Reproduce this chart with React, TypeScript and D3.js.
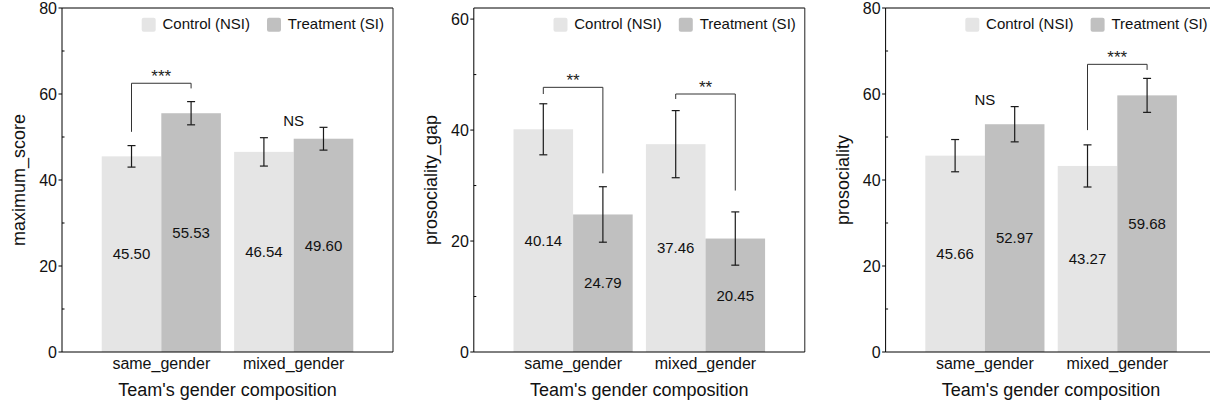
import React from "react";
import * as d3 from "d3";

// ---------- data ----------
const CATEGORIES = ["same_gender", "mixed_gender"];
const SERIES = ["Control (NSI)", "Treatment (SI)"];
const X_TITLE = "Team's gender composition";
const Y_TITLES = ["maximum_score", "prosociality_gap", "prosociality"];
const Y_MAX = [80, 62, 80];
const MAJOR_TICKS = [
  [0, 20, 40, 60, 80],
  [0, 20, 40, 60],
  [0, 20, 40, 60, 80],
];
const MINOR_TICKS = [
  [10, 30, 50, 70],
  [10, 30, 50],
  [10, 30, 50, 70],
];

// means: [category][series]
const MAXIMUM_SCORE = [
  [45.5, 55.53],
  [46.54, 49.6],
];
const MAXIMUM_SCORE_ERR = [
  [2.5, 2.7],
  [3.3, 2.65],
];
const PROSOCIALITY_GAP = [
  [40.14, 24.79],
  [37.46, 20.45],
];
const PROSOCIALITY_GAP_ERR = [
  [4.6, 5.0],
  [6.05, 4.8],
];
const PROSOCIALITY = [
  [45.66, 52.97],
  [43.27, 59.68],
];
const PROSOCIALITY_ERR = [
  [3.75, 4.1],
  [4.9, 3.95],
];

// significance brackets: panel, category, bracket level, left leg end, right leg end, label
const BRACKETS = [
  { panel: 0, cat: "same_gender", top: 62.5, left: 51.2, right: 61.3, label: "***" },
  { panel: 1, cat: "same_gender", top: 47.7, left: 46.5, right: 32.2, label: "**" },
  { panel: 1, cat: "mixed_gender", top: 46.5, left: 45.6, right: 29.1, label: "**" },
  { panel: 2, cat: "mixed_gender", top: 66.9, left: 51.6, right: 65.6, label: "***" },
];
const NS_MARKS = [
  { panel: 0, cat: "mixed_gender", label: "NS" },
  { panel: 2, cat: "same_gender", label: "NS" },
];

const PANEL_VALUES = [MAXIMUM_SCORE, PROSOCIALITY_GAP, PROSOCIALITY];
const PANEL_ERRS = [MAXIMUM_SCORE_ERR, PROSOCIALITY_GAP_ERR, PROSOCIALITY_ERR];

// ---------- style ----------
const W = 1210;
const H = 404;
const FONT = "'Liberation Sans', Arial, Helvetica, sans-serif";
const COLORS = ["#e5e5e5", "#c0c0c0"];
const PANEL_X0 = 62;
const PANEL_STEP = 411.8;
const PLOT_W = 331;
const PLOT_TOP = 8;
const PLOT_BOTTOM = 352;

function Panel({ index }: { index: number }) {
  const x0 = PANEL_X0 + index * PANEL_STEP;
  const y = d3.scaleLinear().domain([0, Y_MAX[index]]).range([PLOT_BOTTOM, PLOT_TOP]);
  const x = d3
    .scaleBand<string>()
    .domain(CATEGORIES)
    .range([0, PLOT_W])
    .paddingInner(0.1)
    .paddingOuter(0.3);
  const xs = d3.scaleBand<string>().domain(SERIES).range([0, x.bandwidth()]).padding(0);
  const values = PANEL_VALUES[index];
  const errs = PANEL_ERRS[index];
  const yMid = (PLOT_TOP + PLOT_BOTTOM) / 2;

  const barCenter = (ci: number, si: number) =>
    (x(CATEGORIES[ci]) as number) + (xs(SERIES[si]) as number) + xs.bandwidth() / 2;

  const legendEnd = PLOT_W - 9;
  const swatch = 14;

  return (
    <g transform={`translate(${x0},0)`}>
      {/* bars */}
      {CATEGORIES.map((c, ci) =>
        SERIES.map((s, si) => (
          <rect
            key={`b${ci}${si}`}
            x={(x(c) as number) + (xs(s) as number)}
            y={y(values[ci][si])}
            width={xs.bandwidth()}
            height={PLOT_BOTTOM - y(values[ci][si])}
            fill={COLORS[si]}
          />
        ))
      )}
      {/* value labels */}
      {CATEGORIES.map((c, ci) =>
        SERIES.map((s, si) => (
          <text
            key={`v${ci}${si}`}
            x={barCenter(ci, si)}
            y={y(values[ci][si] / 2)}
            dy="0.35em"
            textAnchor="middle"
            fontSize={15}
            fill="#111"
          >
            {values[ci][si].toFixed(2)}
          </text>
        ))
      )}
      {/* error bars */}
      {CATEGORIES.map((c, ci) =>
        SERIES.map((s, si) => {
          const cx = barCenter(ci, si);
          const v = values[ci][si];
          const e = errs[ci][si];
          return (
            <g key={`e${ci}${si}`} stroke="#1a1a1a" strokeWidth={1.2}>
              <line x1={cx} x2={cx} y1={y(v + e)} y2={y(v - e)} />
              <line x1={cx - 4} x2={cx + 4} y1={y(v + e)} y2={y(v + e)} />
              <line x1={cx - 4} x2={cx + 4} y1={y(v - e)} y2={y(v - e)} />
            </g>
          );
        })
      )}
      {/* brackets */}
      {BRACKETS.filter((b) => b.panel === index).map((b, i) => {
        const ci = CATEGORIES.indexOf(b.cat);
        const xl = barCenter(ci, 0);
        const xr = barCenter(ci, 1);
        return (
          <g key={`br${i}`}>
            <path
              d={`M${xl},${y(b.left)}V${y(b.top)}H${xr}V${y(b.right)}`}
              fill="none"
              stroke="#333"
              strokeWidth={1}
            />
            <text
              x={(xl + xr) / 2}
              y={y(b.top) - 1.5}
              textAnchor="middle"
              fontSize={17}
              fill="#222"
            >
              {b.label}
            </text>
          </g>
        );
      })}
      {/* NS marks */}
      {NS_MARKS.filter((n) => n.panel === index).map((n, i) => {
        const ci = CATEGORIES.indexOf(n.cat);
        const top = Math.max(
          values[ci][0] + errs[ci][0],
          values[ci][1] + errs[ci][1]
        );
        return (
          <text
            key={`ns${i}`}
            x={(x(n.cat) as number) + x.bandwidth() / 2}
            y={y(top) - 1.5}
            textAnchor="middle"
            fontSize={15}
            fill="#111"
          >
            {n.label}
          </text>
        );
      })}
      {/* legend */}
      <g fontSize={15} fill="#111">
        <text x={legendEnd} y={29.3} textAnchor="end">
          {SERIES[1]}
        </text>
        <rect x={legendEnd - 117} y={17.7} width={swatch} height={swatch} rx={2} fill={COLORS[1]} />
        <text x={legendEnd - 134} y={29.3} textAnchor="end">
          {SERIES[0]}
        </text>
        <rect x={legendEnd - 242.3} y={17.7} width={swatch} height={swatch} rx={2} fill={COLORS[0]} />
      </g>
      {/* frame */}
      <line x1={0} x2={PLOT_W} y1={PLOT_TOP} y2={PLOT_TOP} stroke="#000" strokeWidth={1} />
      <line x1={PLOT_W} x2={PLOT_W} y1={PLOT_TOP} y2={PLOT_BOTTOM} stroke="#222" strokeWidth={1} />
      <line x1={0} x2={PLOT_W} y1={PLOT_BOTTOM} y2={PLOT_BOTTOM} stroke="#000" strokeWidth={1} />
      <line x1={0} x2={0} y1={PLOT_TOP} y2={PLOT_BOTTOM} stroke="#000" strokeWidth={1} />
      {/* y ticks */}
      {MAJOR_TICKS[index].map((t) => (
        <g key={`t${t}`}>
          <line x1={-3.5} x2={0} y1={y(t)} y2={y(t)} stroke="#000" />
          <text x={-5} y={y(t)} dy="0.35em" textAnchor="end" fontSize={16} fill="#111">
            {t}
          </text>
        </g>
      ))}
      {MINOR_TICKS[index].map((t) => (
        <line key={`m${t}`} x1={0} x2={2.5} y1={y(t)} y2={y(t)} stroke="#000" />
      ))}
      {/* x tick labels */}
      {CATEGORIES.map((c) => (
        <text
          key={`xl${c}`}
          x={(x(c) as number) + x.bandwidth() / 2}
          y={369}
          textAnchor="middle"
          fontSize={16}
          fill="#111"
        >
          {c}
        </text>
      ))}
      {/* axis titles */}
      <text x={PLOT_W / 2} y={396} textAnchor="middle" fontSize={18} fill="#111">
        {X_TITLE}
      </text>
      <text
        transform={`translate(-37,${yMid}) rotate(-90)`}
        textAnchor="middle"
        fontSize={18}
        fill="#111"
      >
        {Y_TITLES[index]}
      </text>
    </g>
  );
}

export default function App() {
  return (
    <svg
      width={W}
      height={H}
      style={{ position: "absolute", left: 0, top: 0, background: "#fff" }}
      fontFamily={FONT}
    >
      <rect width={W} height={H} fill="#fff" />
      {[0, 1, 2].map((i) => (
        <Panel key={i} index={i} />
      ))}
    </svg>
  );
}
